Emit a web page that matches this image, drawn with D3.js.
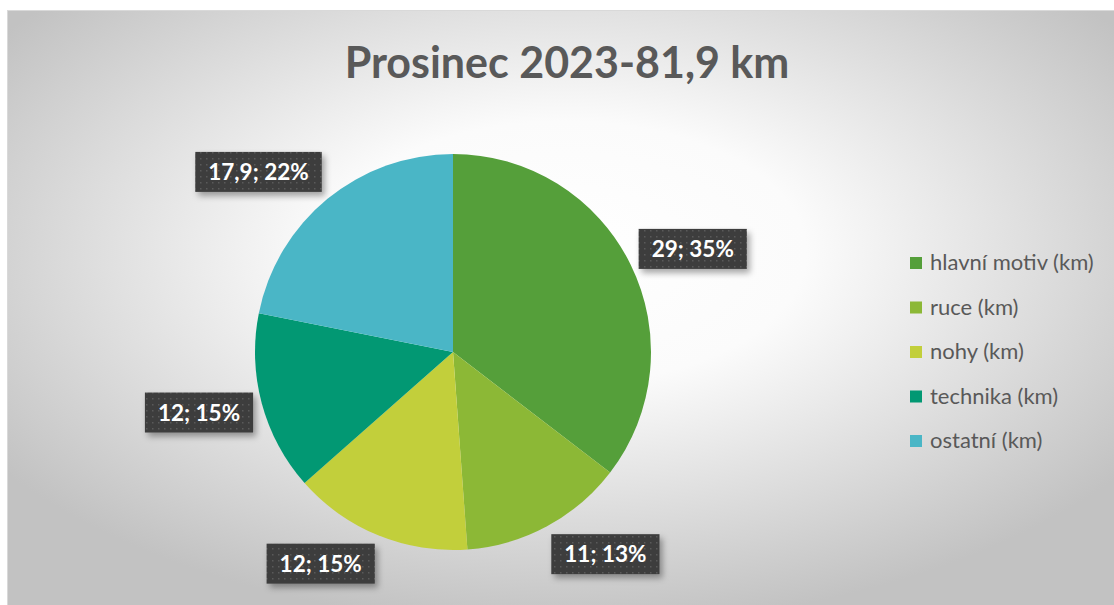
<!DOCTYPE html>
<html>
<head>
<meta charset="utf-8">
<script src="https://cdn.jsdelivr.net/npm/d3@7/dist/d3.min.js"></script>
<style>
  html, body { margin: 0; padding: 0; background: #ffffff; }
  svg { display: block; }
</style>
</head>
<body>
<svg id="chart" width="1114" height="605"></svg>
<script>
const title = "Prosinec 2023-81,9 km";
const categories = ["hlavní motiv (km)", "ruce (km)", "nohy (km)", "technika (km)", "ostatní (km)"];
const values = [29, 11, 12, 12, 17.9];
const colors = ["#559f3a", "#8cb836", "#c2cf3b", "#029873", "#4ab6c6"];

const W = 1114, H = 605;
const svg = d3.select("#chart");
const defs = svg.append("defs");

const bg = defs.append("radialGradient").attr("id", "bg")
  .attr("cx", "50%").attr("cy", "40%").attr("r", "62%");
bg.append("stop").attr("offset", "0%").attr("stop-color", "#ffffff");
bg.append("stop").attr("offset", "35%").attr("stop-color", "#fbfbfb");
bg.append("stop").attr("offset", "100%").attr("stop-color", "#c2c2c2");

const pat = defs.append("pattern").attr("id", "dots")
  .attr("width", 6).attr("height", 6).attr("patternUnits", "userSpaceOnUse");
pat.append("rect").attr("width", 6).attr("height", 6).attr("fill", "#3c3c3c");
pat.append("rect").attr("x", 2).attr("y", 2).attr("width", 1.5).attr("height", 1.5).attr("fill", "#5a5a5a");

const sh = defs.append("filter").attr("id", "shadow")
  .attr("x", "-20%").attr("y", "-30%").attr("width", "150%").attr("height", "180%");
sh.append("feDropShadow").attr("dx", 3).attr("dy", 4).attr("stdDeviation", 3)
  .attr("flood-color", "#000").attr("flood-opacity", 0.35);

// chart area
svg.append("rect").attr("x", 7.5).attr("y", 10.5).attr("width", W).attr("height", H)
  .attr("fill", "url(#bg)").attr("stroke", "#d9d9d9").attr("stroke-width", 1);

// title
svg.append("text").attr("x", 567).attr("y", 78).attr("text-anchor", "middle")
  .attr("font-family", "Lato, 'Open Sans', sans-serif").attr("font-weight", "bold")
  .attr("font-size", 43).attr("fill", "#595959").text(title);

// pie
const cx = 453, cy = 352, r = 198;
const total = d3.sum(values);
const pie = d3.pie().sort(null).value(d => d)(values);
const arc = d3.arc().innerRadius(0).outerRadius(r);
const g = svg.append("g").attr("transform", `translate(${cx},${cy})`);
g.selectAll("path").data(pie).join("path")
  .attr("d", arc).attr("fill", (d, i) => colors[i]);

// data labels
const fmt = v => String(v).replace(".", ",");
const clamp = v => Math.max(-1, Math.min(1, v));
const R = 207, padX = 13, boxH = 40;
pie.forEach((d, i) => {
  const a = (d.startAngle + d.endAngle) / 2;
  const s = Math.sin(a), c = -Math.cos(a);
  const label = `${fmt(values[i])}; ${Math.round(values[i] / total * 100)}%`;
  const lg = svg.append("g");
  const t = lg.append("text").attr("font-family", "Lato, 'Open Sans', sans-serif")
    .attr("font-weight", "bold").attr("font-size", 22.5).attr("fill", "#ffffff")
    .attr("text-anchor", "middle").text(label);
  const tw = t.node().getComputedTextLength();
  const bw = tw + 2 * padX;
  const px = cx + R * s, py = cy + R * c;
  const mx = px + bw / 2 * clamp(s * 2.7);
  const my = py + boxH / 2 * clamp(c * 1.3);
  lg.insert("rect", "text").attr("x", mx - bw / 2).attr("y", my - boxH / 2)
    .attr("width", bw).attr("height", boxH).attr("fill", "url(#dots)")
    .attr("filter", "url(#shadow)");
  t.attr("x", mx).attr("y", my + 8);
});

// legend
const lgY = d3.scalePoint().domain(categories).range([263, 441]);
const leg = svg.append("g");
categories.forEach((cat, i) => {
  leg.append("rect").attr("x", 910).attr("y", lgY(cat) - 6).attr("width", 12).attr("height", 12)
    .attr("fill", colors[i]);
  leg.append("text").attr("x", 930).attr("y", lgY(cat) + 7)
    .attr("font-family", "Lato, 'Open Sans', sans-serif").attr("font-size", 22)
    .attr("fill", "#595959").text(cat);
});
</script>
</body>
</html>
